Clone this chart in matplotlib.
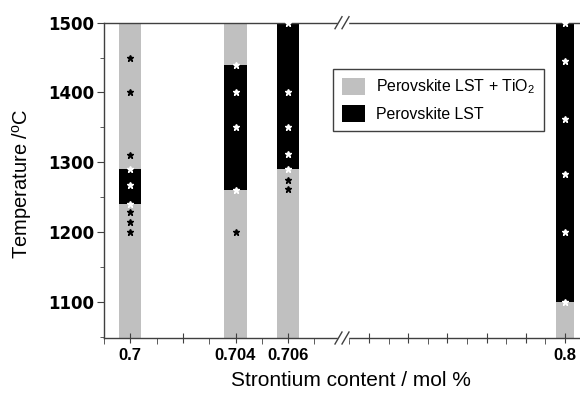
import matplotlib.pyplot as plt
from matplotlib.lines import Line2D
from matplotlib.patches import Patch, Rectangle
from matplotlib.ticker import MultipleLocator

plt.rcParams['font.family'] = ['Liberation Sans', 'DejaVu Sans']
plt.rcParams['mathtext.default'] = 'regular'

# Sr content of each sample and the range where single phase LST was found
sr = [0.7, 0.704, 0.706, 0.8]
lst_lo = [1240, 1260, 1290, 1100]
lst_hi = [1290, 1440, 1500, 1500]
t_min, t_max = 1048, 1500

# measured temperatures (stars) for each composition
stars = [
    [1450, 1400, 1310, 1290, 1268, 1240, 1228, 1214, 1200],
    [1440, 1400, 1350, 1260, 1200],
    [1500, 1400, 1350, 1312, 1290, 1274, 1262],
    [1500, 1445, 1362, 1283, 1200, 1100],
]

left_ticks = [0.7, 0.702, 0.704, 0.706]
left_labels = ['0.7', '', '0.704', '0.706']
right_ticks = [0.75, 0.76, 0.77, 0.78, 0.79, 0.8]
right_labels = ['', '', '', '', '', '0.8']
y_ticks = [1100, 1200, 1300, 1400, 1500]

gray = '#c0c0c0'
spine_col = '#404040'

fig = plt.figure(figsize=(5.8, 3.95), dpi=100)
W, H = 580, 395
bot, top = 338, 22.7
ax1 = fig.add_axes([104 / W, 1 - bot / H, 236 / W, (bot - top) / H])
ax2 = fig.add_axes([340 / W, 1 - bot / H, 240 / W, (bot - top) / H], sharey=ax1)

ax1.set_xlim(0.699, 0.70797)
ax2.set_xlim(0.7426, 0.8038)


def draw(ax, i, w):
    ax.bar(sr[i], t_max - t_min, bottom=t_min, width=w, color=gray, zorder=1)
    ax.bar(sr[i], lst_hi[i] - lst_lo[i], bottom=lst_lo[i], width=w, color='black', zorder=2)
    for t in stars[i]:
        c = 'white' if lst_lo[i] <= t <= lst_hi[i] else 'black'
        ax.plot(sr[i], t, marker='*', ms=4.6, color=c, mec=c, ls='none', zorder=3, clip_on=False)


for i in range(3):
    draw(ax1, i, 0.00085)
draw(ax2, 3, 0.0044)

ax1.set_ylim(t_min, t_max)
ax1.set_yticks(y_ticks)
ax1.yaxis.set_minor_locator(MultipleLocator(50))
for lab in ax1.get_yticklabels():
    lab.set_family('DejaVu Sans')
    lab.set_fontweight('bold')
    lab.set_fontsize(12)
ax1.tick_params(axis='y', which='major', direction='out', length=5, color=spine_col, pad=2)
ax1.tick_params(axis='y', which='minor', direction='out', length=3, color=spine_col)

ax1.set_xticks(left_ticks)
ax1.set_xticklabels(left_labels, fontweight='bold', fontsize=12)
ax1.xaxis.set_minor_locator(MultipleLocator(0.001))
ax2.set_xticks(right_ticks)
ax2.set_xticklabels(right_labels, fontweight='bold', fontsize=12)
ax2.xaxis.set_minor_locator(MultipleLocator(0.005))
for ax in (ax1, ax2):
    ax.tick_params(axis='x', which='major', direction='inout', length=7, color=spine_col, pad=4)
    ax.tick_params(axis='x', which='minor', direction='out', length=4, color=spine_col)
    ax.spines['right'].set_visible(False)
    for s in ('left', 'bottom', 'top'):
        ax.spines[s].set_color(spine_col)
        ax.spines[s].set_linewidth(1.0)
ax2.spines['left'].set_visible(False)
ax2.tick_params(axis='y', which='both', left=False, labelleft=False)

# break marks on the x axis
for yb in (top, bot):
    fig.patches.append(Rectangle((338 / W, 1 - (yb + 2) / H), 10 / W, 4 / H,
                                 transform=fig.transFigure, color='white', zorder=5))
    for dx in (0, 7):
        x0 = 335 + dx
        fig.lines.append(Line2D([x0 / W, (x0 + 7) / W], [1 - (yb + 6) / H, 1 - (yb - 6) / H],
                                transform=fig.transFigure, color=spine_col, lw=1.0, zorder=6))

fig.text(21.7 / W, 1 - 184 / H, 'Temperature /$^o$C', rotation=90, ha='center', va='center', fontsize=14.5)
fig.text(351 / W, 1 - 381 / H, 'Strontium content / mol %', ha='center', va='center', fontsize=15)

handles = [Patch(facecolor=gray), Patch(facecolor='black')]
leg = fig.legend(handles, ['Perovskite LST + TiO$_2$', 'Perovskite LST'],
                 loc='upper left', bbox_to_anchor=(333 / W, 1 - 69 / H), bbox_transform=fig.transFigure,
                 borderaxespad=0, fontsize=11.4, fancybox=False, framealpha=1,
                 handlelength=1.45, handleheight=1.25, labelspacing=0.55, borderpad=0.55,
                 handletextpad=0.7)
leg.get_frame().set_edgecolor(spine_col)
leg.get_frame().set_linewidth(1.0)
leg.set_zorder(10)

fig.savefig('out.png', dpi=100)
